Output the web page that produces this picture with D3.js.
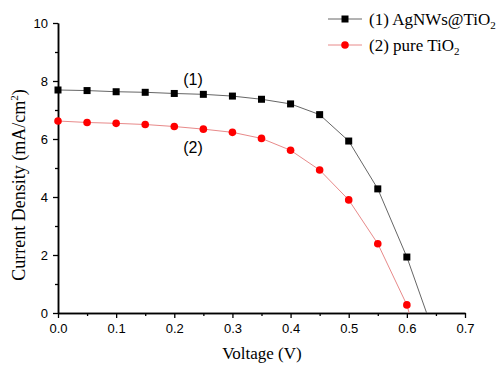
<!DOCTYPE html>
<html><head><meta charset="utf-8">
<script src="https://cdn.jsdelivr.net/npm/d3@7"></script>
<style>body{margin:0;background:#fff}</style>
</head><body>
<svg id="c" width="500" height="365"></svg>
<script>
const voltage = [0.0,0.05,0.1,0.15,0.2,0.25,0.3,0.35,0.4,0.45,0.5,0.55,0.6];
const jAg = [7.69,7.67,7.63,7.61,7.57,7.54,7.48,7.37,7.21,6.84,5.93,4.28,1.93];
const jPure = [6.62,6.57,6.54,6.50,6.43,6.34,6.23,6.02,5.61,4.93,3.90,2.39,0.28];
const vocs = [0.634, 0.604];
const seriesNames = ["(1) AgNWs@TiO", "(2) pure TiO"];
const xTicks = [0,0.1,0.2,0.3,0.4,0.5,0.6,0.7];
const yTicks = [0,2,4,6,8,10];

const svg = d3.select("#c");
const x = d3.scaleLinear().domain([0,0.7]).range([58,465]);
const y = d3.scaleLinear().domain([0,10]).range([313,23]);

const xAxis = d3.axisBottom(x).tickValues(xTicks).tickFormat(d3.format(".1f")).tickSize(5).tickSizeOuter(0);
const xMinor = d3.axisBottom(x).tickValues(d3.range(0.05,0.7,0.1)).tickFormat("").tickSize(3).tickSizeOuter(0);
const yAxis = d3.axisLeft(y).tickValues(yTicks).tickFormat(d3.format("d")).tickSize(5).tickSizeOuter(0);
const yMinor = d3.axisLeft(y).tickValues(d3.range(1,10,2)).tickFormat("").tickSize(3).tickSizeOuter(0);

function style(g){
  g.select(".domain").attr("stroke","#000").attr("stroke-width",1.5);
  g.selectAll(".tick line").attr("stroke","#000").attr("stroke-width",1.3);
  g.selectAll("text").attr("font-family","Liberation Sans, Arial, sans-serif").attr("font-size",13).attr("fill","#000");
}
svg.append("g").attr("transform","translate(0,313)").call(xMinor).call(style);
svg.append("g").attr("transform","translate(0,313)").call(xAxis).call(style).selectAll("text").attr("dy","0.9em");
svg.append("g").attr("transform","translate(58,0)").call(yMinor).call(style);
svg.append("g").attr("transform","translate(58,0)").call(yAxis).call(style).selectAll("text").attr("dx","-2");

svg.append("text").attr("x",262).attr("y",359).attr("text-anchor","middle")
  .attr("font-family","Liberation Serif, Times New Roman, serif").attr("font-size",17).text("Voltage (V)");
const yt = svg.append("text").attr("transform","translate(25,185) rotate(-90)").attr("text-anchor","middle")
  .attr("font-family","Liberation Serif, Times New Roman, serif").attr("font-size",18);
yt.append("tspan").text("Current Density (mA/cm");
yt.append("tspan").attr("font-size",11).attr("dy",-7).text("2");
yt.append("tspan").attr("dy",7).text(")");

svg.append("defs").append("clipPath").attr("id","clip").append("rect")
  .attr("x",58).attr("y",20).attr("width",420).attr("height",293);
const series = [
  {vals:jAg, voc:vocs[0], line:"#666", color:"#000", shape:"square"},
  {vals:jPure, voc:vocs[1], line:"#e88a8a", color:"#f00", shape:"circle"}
];
const lineGen = d3.line().x(d=>x(d[0])).y(d=>y(d[1]));
series.forEach(s=>{
  const pts = voltage.map((v,i)=>[v,s.vals[i]]);
  pts.push([s.voc,0]);
  svg.append("path").datum(pts).attr("d",lineGen).attr("fill","none")
    .attr("stroke",s.line).attr("stroke-width",1).attr("clip-path","url(#clip)");
});
series.forEach(s=>{
  const g = svg.append("g");
  voltage.forEach((v,i)=>{
    if(s.shape==="square"){
      g.append("rect").attr("x",x(v)-3.5).attr("y",y(s.vals[i])-3.5).attr("width",7).attr("height",7).attr("fill",s.color);
    } else {
      g.append("circle").attr("cx",x(v)).attr("cy",y(s.vals[i])).attr("r",3.8).attr("fill",s.color);
    }
  });
});

svg.append("text").attr("x",193).attr("y",85).attr("text-anchor","middle")
  .attr("font-family","Liberation Sans, Arial, sans-serif").attr("font-size",16).text("(1)");
svg.append("text").attr("x",193).attr("y",153).attr("text-anchor","middle")
  .attr("font-family","Liberation Sans, Arial, sans-serif").attr("font-size",16).text("(2)");

series.forEach((s,i)=>{
  const ly = 19 + i*26;
  svg.append("line").attr("x1",328).attr("x2",362).attr("y1",ly).attr("y2",ly).attr("stroke",s.line).attr("stroke-width",1);
  if(s.shape==="square") svg.append("rect").attr("x",345-3.5).attr("y",ly-3.5).attr("width",7).attr("height",7).attr("fill",s.color);
  else svg.append("circle").attr("cx",345).attr("cy",ly).attr("r",3.8).attr("fill",s.color);
  const t = svg.append("text").attr("x",369).attr("y",ly+6)
    .attr("font-family","Liberation Serif, Times New Roman, serif").attr("font-size",17);
  t.append("tspan").text(seriesNames[i]);
  t.append("tspan").attr("font-size",11).attr("dy",4).text("2");
});
</script>
</body></html>
